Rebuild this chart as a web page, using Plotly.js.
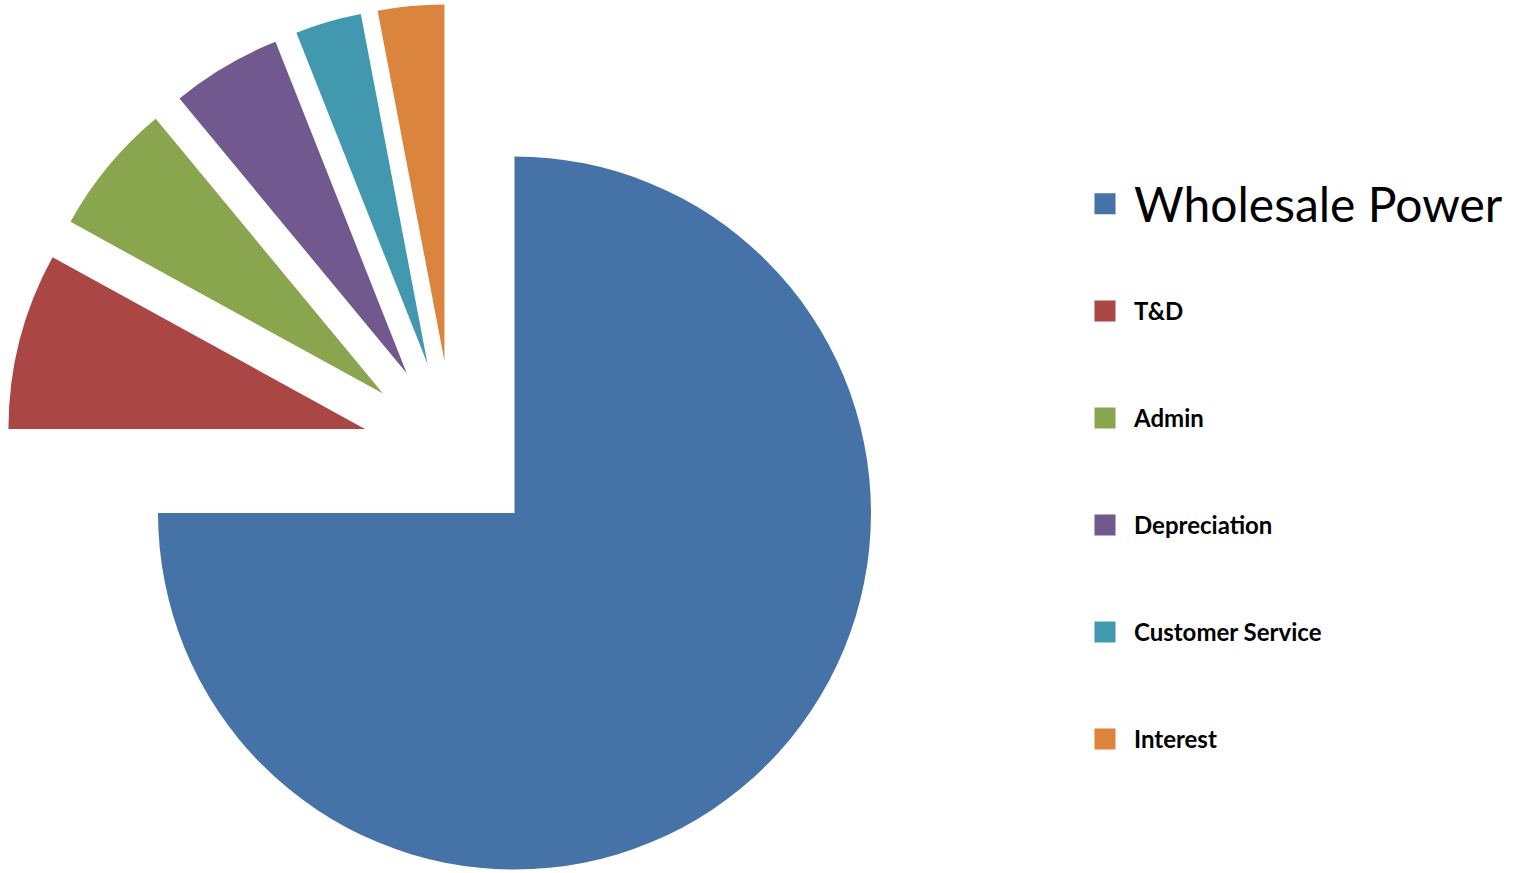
<!DOCTYPE html>
<html><head><meta charset="utf-8">
<script src="https://cdn.plot.ly/plotly-3.0.1.min.js"></script>
<style>html,body{margin:0;padding:0;background:#fff;overflow:hidden}#chart{width:1531px;height:873px}</style>
</head><body><div id="chart"></div>
<script>
// ---- data ----
const categories = ["Wholesale Power", "T&D", "Admin", "Depreciation", "Customer Service", "Interest"];
const shares = [75, 8, 6, 5, 3, 3];
const sliceColors = ["#4572A7", "#AA4643", "#89A54E", "#71588F", "#4198AF", "#DB843D"];

// ---- layout parameters ----
const W = 1531, H = 873;
const PIE = {cx: 514.5, cy: 513, r: 356.5};
const EXPLODE_FROM = 1;      // slices from this index on form the exploded group
const GROUP_PULL = 0.244;    // whole group pulled out along the group's bisector (fraction of radius)
const SLICE_PULL = 0.255;    // each exploded slice pulled out along its own bisector
const LEGEND_X = 1076;
const LEGEND_Y = [204, 311.5, 418.5, 525.5, 632.5, 739.5];

const total = shares.reduce((a, b) => a + b, 0);
const startDeg = [], endDeg = [];
let acc = 0;
shares.forEach(v => { startDeg.push(acc / total * 360); acc += v; endDeg.push(acc / total * 360); });
const rad = d => d * Math.PI / 180;
const dirOf = deg => [Math.sin(rad(deg)), -Math.cos(rad(deg))]; // compass degrees -> screen vector
const groupDir = dirOf((startDeg[EXPLODE_FROM] + 360) / 2);

const clamp = v => Math.max(0, Math.min(1, v));
function domainFor(cx, cy, r) {
  return {x: [clamp((cx - r) / W), clamp((cx + r) / W)],
          y: [clamp((H - cy - r) / H), clamp((H - cy + r) / H)]};
}

const traces = [];
categories.forEach((name, i) => {
  let dx = 0, dy = 0;
  if (i >= EXPLODE_FROM) {
    const sd = dirOf((startDeg[i] + endDeg[i]) / 2);
    dx = PIE.r * (GROUP_PULL * groupDir[0] + SLICE_PULL * sd[0]);
    dy = PIE.r * (GROUP_PULL * groupDir[1] + SLICE_PULL * sd[1]);
  }
  traces.push({
    type: 'pie',
    labels: categories,
    values: shares,
    sort: false,
    direction: 'clockwise',
    rotation: 0,
    textinfo: 'none',
    hoverinfo: 'label+percent',
    showlegend: false,
    marker: {colors: sliceColors.map((c, j) => j === i ? c : 'rgba(0,0,0,0)'), line: {width: 0}},
    domain: domainFor(PIE.cx + dx, PIE.cy + dy, PIE.r)
  });
});

// legend entries (one legend per category so each can have its own spacing/size)
const legendLayouts = {};
categories.forEach((name, i) => {
  const key = i === 0 ? 'legend' : 'legend' + (i + 1);
  traces.push({
    type: 'scatter', x: [null], y: [null], mode: 'markers', name: name,
    legend: key, hoverinfo: 'skip',
    marker: {symbol: 'square', size: 16, color: sliceColors[i], line: {width: 5, color: sliceColors[i]}}
  });
  legendLayouts[key] = {
    x: LEGEND_X / W, y: (H - LEGEND_Y[i]) / H, xanchor: 'left', yanchor: 'middle',
    bgcolor: 'rgba(0,0,0,0)', borderwidth: 0, itemwidth: 48,
    itemclick: false, itemdoubleclick: false,
    font: i === 0 ? {family: 'Lato, sans-serif', size: 48, color: '#000'}
                  : {family: 'Lato, sans-serif', size: 24, color: '#000', weight: 'bold'}
  };
});

const layout = Object.assign({
  width: W, height: H,
  margin: {l: 0, r: 0, t: 0, b: 0, pad: 0},
  paper_bgcolor: '#fff', plot_bgcolor: 'rgba(0,0,0,0)',
  showlegend: true,
  xaxis: {visible: false, domain: [0, 0.001], fixedrange: true},
  yaxis: {visible: false, domain: [0, 0.001], fixedrange: true}
}, legendLayouts);

Plotly.newPlot('chart', traces, layout, {displayModeBar: false});
</script>
</body></html>
